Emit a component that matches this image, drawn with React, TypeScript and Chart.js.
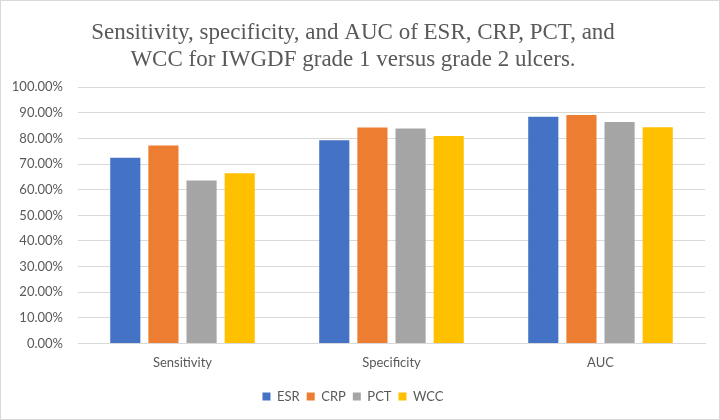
import React, { useEffect, useRef } from "react";
import { Chart, registerables } from "chart.js";

Chart.register(...registerables);

const categories = ["Sensitivity", "Specificity", "AUC"];
const esr = [72.5, 79.3, 88.5];
const crp = [77.3, 84.3, 89.2];
const pct = [63.6, 83.9, 86.4];
const wcc = [66.4, 81.0, 84.4];
const seriesNames = ["ESR", "CRP", "PCT", "WCC"];
const colors = ["#4472C4", "#ED7D31", "#A5A5A5", "#FFC000"];
const titleLines = [
  "Sensitivity, specificity, and AUC of ESR, CRP, PCT, and",
  "WCC for IWGDF grade 1 versus grade 2 ulcers.",
];

export default function App() {
  const ref = useRef<HTMLCanvasElement | null>(null);
  useEffect(() => {
    document.body.style.margin = "0";
    const values = [esr, crp, pct, wcc];
    const chart = new Chart(ref.current!, {
      type: "bar",
      data: {
        labels: categories,
        datasets: seriesNames.map((n, i) => ({
          label: n,
          data: values[i],
          backgroundColor: colors[i],
          borderWidth: 0,
          categoryPercentage: 0.73,
          barPercentage: 0.79,
        })),
      },
      options: {
        animation: false,
        responsive: false,
        maintainAspectRatio: false,
        layout: { padding: { left: 0, right: 14, top: 6, bottom: 6 } },
        plugins: {
          title: {
            display: true,
            text: titleLines,
            color: "#595959",
            font: { family: "Liberation Serif", size: 23, weight: "normal", lineHeight: 1.18 },
            padding: { top: 12, bottom: 14 },
          },
          legend: {
            position: "bottom",
            labels: {
              boxWidth: 8,
              boxHeight: 8,
              color: "#595959",
              font: { family: "Lato", size: 13 },
              padding: 7,
            },
          },
          tooltip: { enabled: false },
        },
        scales: {
          x: {
            grid: { display: false, drawTicks: false },
            border: { display: true, color: "#d9d9d9" },
            ticks: { color: "#595959", font: { family: "Lato", size: 13 }, padding: 12 },
          },
          y: {
            min: 0,
            max: 100,
            grid: { color: "#d9d9d9", drawTicks: false },
            border: { display: false },
            afterFit: (axis: any) => {
              axis.width = 77;
            },
            ticks: {
              stepSize: 10,
              color: "#595959",
              font: { family: "Lato", size: 13 },
              padding: 15,
              callback: (v: any) => Number(v).toFixed(2) + "%",
            },
          },
        },
      },
    });
    return () => chart.destroy();
  }, []);
  return (
    <div style={{ width: 720, height: 420, border: "1px solid #d9d9d9", boxSizing: "border-box", background: "#fff" }}>
      <canvas ref={ref} width={718} height={418} />
    </div>
  );
}
